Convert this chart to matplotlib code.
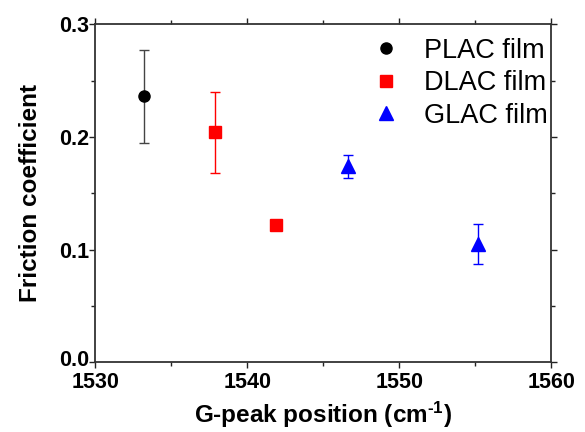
import matplotlib
matplotlib.use("Agg")
import matplotlib.pyplot as plt
import matplotlib.transforms as mtransforms

plt.rcParams['font.family'] = ['Liberation Sans', 'DejaVu Sans']
plt.rcParams['mathtext.fontset'] = 'custom'
plt.rcParams['mathtext.rm'] = 'Liberation Sans:bold'
plt.rcParams['mathtext.bf'] = 'Liberation Sans:bold'
plt.rcParams['mathtext.it'] = 'Liberation Sans:bold'

plac_x = [1533.2]
plac_y = [0.236]
plac_err = [0.041]

dlac_x = [1537.9, 1541.9]
dlac_y = [0.204, 0.122]
dlac_err = [0.036, 0.0]

glac_x = [1546.6, 1555.2]
glac_y = [0.174, 0.105]
glac_err = [0.010, 0.018]

fig = plt.figure(figsize=(5.85, 4.32), dpi=100)
ax = fig.add_axes([0.163, 0.161, 0.779, 0.783])

ax.errorbar(plac_x, plac_y, yerr=plac_err, fmt='o', color='black', ecolor='#444444',
            ms=8, capsize=3.5, elinewidth=1, capthick=1, label='PLAC film')
ax.errorbar(dlac_x, dlac_y, yerr=dlac_err, fmt='s', color='#ff0000', ecolor='#ff0000',
            ms=8, capsize=3.5, elinewidth=1, capthick=1, label='DLAC film')
ax.errorbar(glac_x, glac_y, yerr=glac_err, fmt='^', color='#0000ff', ecolor='#0000ff',
            ms=10, capsize=3.5, elinewidth=1, capthick=1, label='GLAC film')

ax.set_xlim(1530, 1560)
ax.set_ylim(0, 0.3)
ax.set_xticks([1530, 1540, 1550, 1560])
ax.set_xticks([1535, 1545, 1555], minor=True)
ax.set_yticks([0.0, 0.1, 0.2, 0.3])
ax.set_yticks([0.05, 0.15, 0.25], minor=True)
ax.set_yticklabels(['0.0', '0.1', '0.2', '0.3'])

ax.tick_params(which='both', direction='out', top=True, right=True, width=1, color='#222222')
ax.tick_params(which='major', length=4)
ax.tick_params(which='minor', length=3)
ax.tick_params(axis='both', labelsize=15.5)
ax.tick_params(axis='x', pad=3)
ax.tick_params(axis='y', pad=0.5)
for lab in ax.get_xticklabels() + ax.get_yticklabels():
    lab.set_fontweight('bold')
ax.tick_params(top=True, right=True, labeltop=False, labelright=False)

# nudge the "0.0" label up slightly so it does not collide with "1530"
ylab0 = ax.get_yticklabels()[0]
ylab0.set_transform(ylab0.get_transform() +
                    mtransforms.ScaledTranslation(0, 3 / 72, fig.dpi_scale_trans))

for s in ax.spines.values():
    s.set_linewidth(1.3)
    s.set_color('#333333')

ax.set_xlabel(r'G-peak position (cm$^{\text{-}1}$)', fontsize=17.5, fontweight='bold', labelpad=5)
ax.set_ylabel('Friction coefficient', fontsize=17.5, fontweight='bold', labelpad=12)

h, l = ax.get_legend_handles_labels()
h = [x[0] for x in h]
ax.legend(h, l, loc='upper right', bbox_to_anchor=(1.028, 1.008), frameon=False,
          fontsize=19.5, handletextpad=0.9, labelspacing=0.24, borderaxespad=0.2,
          handlelength=1.0)

fig.savefig('out.png', dpi=100)
